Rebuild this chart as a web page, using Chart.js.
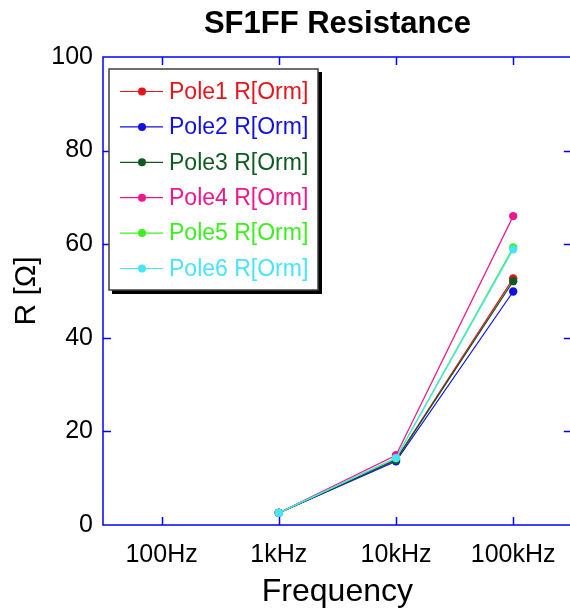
<!DOCTYPE html>
<html>
<head>
<meta charset="utf-8">
<script src="https://cdn.jsdelivr.net/npm/chart.js@4.4.1/dist/chart.umd.min.js"></script>
<style>
	html, body { margin: 0; overflow: hidden; background: #fff; }
	#wrap { width: 576px; height: 611px; }
</style>
</head>
<body>
<div id="wrap"><canvas id="draw" width="576" height="611"></canvas></div>
<script>
const FONT = "'Liberation Sans', Arial, sans-serif";
const AXIS_BLUE = "#0000ff";

// Measured resistance per pole (no reading at 100Hz)
const frequencies = ["100Hz", "1kHz", "10kHz", "100kHz"];
const pole1 = [null, 2.6, 14.0, 52.7];
const pole2 = [null, 2.6, 13.6, 49.9];
const pole3 = [null, 2.6, 13.9, 52.1];
const pole4 = [null, 2.6, 14.9, 66.0];
const pole5 = [null, 2.6, 14.3, 59.3];
const pole6 = [null, 2.6, 14.3, 58.9];
const yTicks = [0, 20, 40, 60, 80, 100];
const chartTitle = "SF1FF Resistance";

const poleNames = ["Pole1 R[Orm]", "Pole2 R[Orm]", "Pole3 R[Orm]", "Pole4 R[Orm]", "Pole5 R[Orm]", "Pole6 R[Orm]"];
const poleColors = ["#e8141a", "#1010e0", "#0f5a22", "#f0168c", "#3cf01e", "#48e4f8"];
const poleData = [pole1, pole2, pole3, pole4, pole5, pole6];

// title centred over the plot area rather than the whole canvas
const plotTitle = {
	id: "plotTitle",
	afterDraw(chart) {
		const { ctx, chartArea: a } = chart;
		ctx.save();
		ctx.font = "bold 31px " + FONT;
		ctx.fillStyle = "#000";
		ctx.textAlign = "center";
		ctx.textBaseline = "middle";
		ctx.fillText(chartTitle, (a.left + a.right) / 2, 24);
		ctx.restore();
	},
};

// box round the plot with inward ticks on all four sides
const frameBox = {
	id: "frameBox",
	afterDatasetsDraw(chart) {
		const { ctx, chartArea: a, scales } = chart;
		const len = 8;
		ctx.save();
		ctx.strokeStyle = AXIS_BLUE;
		ctx.lineWidth = 1.5;
		ctx.beginPath();
		scales.x.ticks.forEach((t, i) => {
			const x = Math.round(scales.x.getPixelForTick(i)) + 0.5;
			ctx.moveTo(x, a.bottom); ctx.lineTo(x, a.bottom - len);
			ctx.moveTo(x, a.top); ctx.lineTo(x, a.top + len);
		});
		yTicks.slice(1, -1).forEach((v) => {
			const y = Math.round(scales.y.getPixelForValue(v)) + 0.5;
			ctx.moveTo(a.left, y); ctx.lineTo(a.left + len, y);
			ctx.moveTo(a.right, y); ctx.lineTo(a.right - len, y);
		});
		ctx.stroke();
		ctx.strokeRect(a.left, a.top, a.right - a.left, a.bottom - a.top);
		ctx.restore();
	},
};

// legend box in the upper left of the plot, with drop shadow
const boxLegend = {
	id: "boxLegend",
	afterDatasetsDraw(chart) {
		const { ctx, chartArea: a } = chart;
		const left = a.left + 6, top = a.top + 12, w = 209, h = 221;
		ctx.save();
		ctx.fillStyle = "#000";
		ctx.fillRect(left + 3, top + 3, w + 1, h + 1);
		ctx.fillStyle = "#fff";
		ctx.fillRect(left, top, w, h);
		ctx.strokeStyle = "#404040";
		ctx.lineWidth = 1.5;
		ctx.strokeRect(left, top, w, h);
		ctx.font = "23px " + FONT;
		ctx.textBaseline = "middle";
		chart.data.datasets.forEach((ds, i) => {
			const y = top + 22.5 + i * 35.4;
			ctx.strokeStyle = ds.borderColor;
			ctx.lineWidth = 1.2;
			ctx.beginPath();
			ctx.moveTo(left + 11, y); ctx.lineTo(left + 54, y);
			ctx.stroke();
			ctx.fillStyle = ds.borderColor;
			ctx.beginPath();
			ctx.arc(left + 33, y, 4, 0, Math.PI * 2);
			ctx.fill();
			ctx.fillText(ds.label, left + 60, y + 1);
		});
		ctx.restore();
	},
};

const config = {
	type: "line",
	data: {
		labels: frequencies,
		datasets: poleData.map((values, i) => ({
			label: poleNames[i],
			data: values,
			borderColor: poleColors[i],
			backgroundColor: poleColors[i],
			borderWidth: 1.2,
			pointRadius: 4.2,
			pointHoverRadius: 4.2,
			pointBorderWidth: 0,
			spanGaps: false,
			order: poleData.length - i,
		})),
	},
	options: {
		responsive: false,
		animation: false,
		layout: { padding: { left: 0, right: 3, top: 57, bottom: 0 } },
		plugins: {
			legend: { display: false },
			tooltip: { enabled: false },
			title: { display: false },
		},
		scales: {
			x: {
				type: "category",
				offset: true,
				grid: { display: false },
				border: { display: false },
				ticks: { color: "#000", font: { family: FONT, size: 25 }, padding: 7, maxRotation: 0 },
				title: { display: true, text: "Frequency", color: "#000", font: { family: FONT, size: 32 }, padding: { top: 0, bottom: 0 } },
				afterFit(scale) { scale.height = 86; },
			},
			y: {
				min: 0,
				max: 100,
				grid: { display: false },
				border: { display: false },
				afterBuildTicks(scale) { scale.ticks = yTicks.map((v) => ({ value: v })); },
				ticks: { color: "#000", font: { family: FONT, size: 25 }, padding: 2 },
				title: { display: true, text: "R [\u03A9]", color: "#000", font: { family: FONT, size: 30 }, padding: { top: 9, bottom: 0 } },
				afterFit(scale) { scale.width = 103; },
			},
		},
	},
	plugins: [frameBox, boxLegend, plotTitle],
};

new Chart(document.getElementById("draw").getContext("2d"), config);
</script>
</body>
</html>
